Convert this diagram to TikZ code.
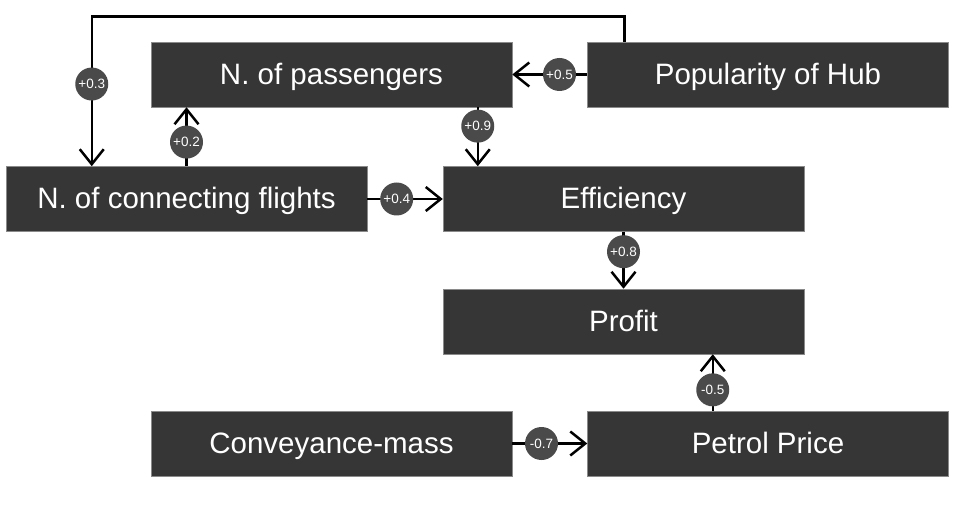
\documentclass[tikz,border=0pt]{standalone}
\usepackage{fontspec}
\setmainfont{Liberation Sans}
\usetikzlibrary{arrows.meta,calc}
\definecolor{boxfill}{HTML}{363636}
\definecolor{lblfill}{HTML}{4A4A4A}
\definecolor{boxedge}{HTML}{8A8A8A}
\tikzset{
  box/.style={draw=boxedge, line width=0.5pt, fill=boxfill, text=white,
    minimum width=361pt, minimum height=65pt, inner sep=0pt,
    text height=25pt, text depth=5.5pt,
    font=\fontsize{29.5}{32}\selectfont},
  lbl/.style={circle, fill=lblfill, text=white, minimum size=33pt, inner sep=0pt,
    font=\fontsize{13.5}{15}\selectfont},
  conn/.style={line width=2.5pt, draw=black,
    -{Straight Barb[length=15pt,width=24pt,line width=2.5pt]}}
}
\begin{document}
\begin{tikzpicture}[x=1pt,y=-1pt]
\useasboundingbox (0,0) rectangle (959,505);
\node[box] (pass) at (331.5,74.5) {N. of passengers};
\node[box] (pop) at (768,74.5) {Popularity of Hub};
\node[box] (cf) at (186.5,199) {N. of connecting flights};
\node[box] (eff) at (623.5,199) {Efficiency};
\node[box] (profit) at (623.5,321.5) {Profit};
\node[box] (conv) at (331.5,443.5) {Conveyance-mass};
\node[box] (petrol) at (768,443.5) {Petrol Price};
\coordinate (popt) at ($(pop.north west)+(37,0)$);
\coordinate (cft) at ($(cf.north west)+(86,0)$);
\coordinate (efft) at ($(eff.north west)+(35,0)$);
\coordinate (proft) at ($(profit.south west)+(270,0)$);
% edges
\draw[conn] (pop.west) -- node[lbl,pos=0.37] {+0.5} (pass.east);
\draw[conn] (popt) -- ++(0,-25) -| node[lbl,pos=0.725] {+0.3} (cft);
\draw[conn] (cf.north) -- node[lbl,pos=0.41] {+0.2} (cf.north |- pass.south);
\draw[conn] (efft |- pass.south) -- node[lbl,pos=0.32] {+0.9} (efft);
\draw[conn] (cf.east) -- node[lbl,pos=0.39] {+0.4} (eff.west);
\draw[conn] (eff.south) -- node[lbl,pos=0.35] {+0.8} (profit.north);
\draw[conn] (proft |- petrol.north) -- node[lbl,pos=0.37] {-0.5} (proft);
\draw[conn] (conv.east) -- node[lbl,pos=0.39] {-0.7} (petrol.west);
\end{tikzpicture}
\end{document}
